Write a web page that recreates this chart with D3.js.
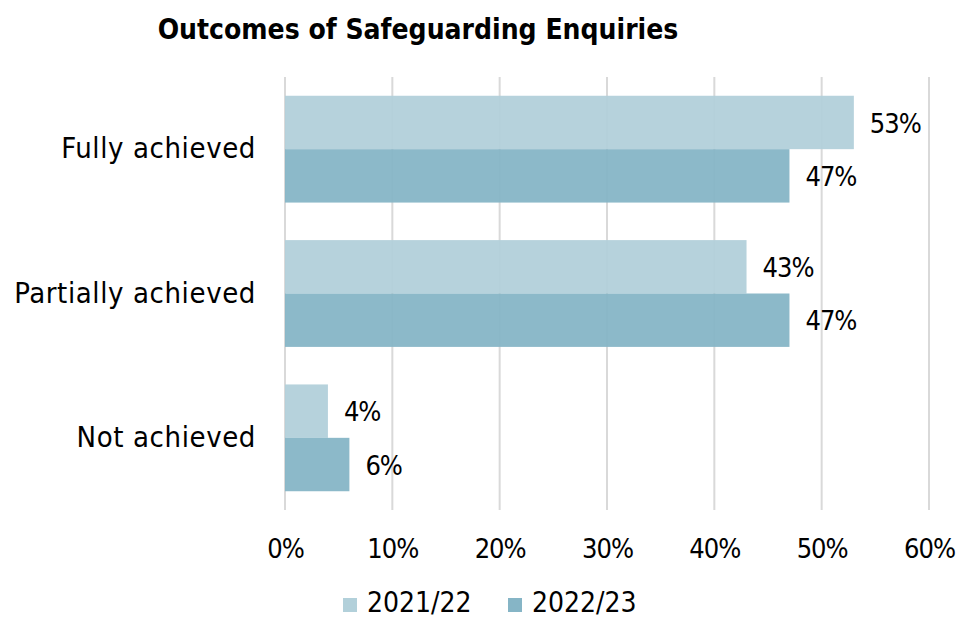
<!DOCTYPE html>
<html>
<head>
<meta charset="utf-8">
<script src="https://cdn.jsdelivr.net/npm/d3@7"></script>
<style>
  html, body { margin: 0; padding: 0; background: #fff; }
  svg text { font-family: "DejaVu Sans Condensed", "DejaVu Sans", sans-serif; font-stretch: condensed; fill: #000; }
</style>
</head>
<body>
<svg id="chart" width="958" height="619"></svg>
<script>
const categories = ["Fully achieved", "Partially achieved", "Not achieved"];
const seriesNames = ["2021/22", "2022/23"];
const values2021 = [53, 43, 4];
const values2022 = [47, 47, 6];
const xTicks = [0, 10, 20, 30, 40, 50, 60];
const colors = ["#b2d0da", "#86b5c6"];

const svg = d3.select("#chart");
const margin = { left: 285, right: 29, top: 77, bottom: 109 };
const W = 958, H = 619;
const FS = 29;     // category and legend labels
const NUM_FS = 27; // percentage labels

const x = d3.scaleLinear().domain([0, 60]).range([margin.left, W - margin.right]);
const y = d3.scaleBand().domain(categories).range([margin.top, H - margin.bottom]).paddingInner(0.26).paddingOuter(0.13);
const ySub = d3.scaleBand().domain(seriesNames).range([0, y.bandwidth()]);

// title
svg.append("text")
  .attr("x", 418).attr("y", 39)
  .attr("text-anchor", "middle")
  .attr("font-size", 28).attr("font-weight", "bold")
  .text("Outcomes of Safeguarding Enquiries");

// vertical gridlines
svg.append("g").selectAll("line").data(xTicks).join("line")
  .attr("x1", d => x(d)).attr("x2", d => x(d))
  .attr("y1", margin.top).attr("y2", H - margin.bottom)
  .attr("stroke", "#d9d9d9").attr("stroke-width", 2);

// x tick labels
const xAxis = d3.axisBottom(x).tickValues(xTicks).tickFormat(d => d + "%").tickSize(0).tickPadding(0);
const gx = svg.append("g").attr("transform", `translate(0, ${H - margin.bottom})`).call(xAxis);
gx.select(".domain").remove();
gx.attr("font-family", null);
gx.selectAll("text").attr("font-size", NUM_FS).attr("letter-spacing", -1).attr("dy", null).attr("y", 48);

// category labels
const yAxis = d3.axisLeft(y).tickSize(0).tickPadding(29);
const gy = svg.append("g").attr("transform", `translate(${margin.left}, 0)`).call(yAxis);
gy.select(".domain").remove();
gy.attr("font-family", null);
gy.selectAll("text").attr("font-size", FS).attr("letter-spacing", 0.6);

// bars
const rows = categories.map((c, i) => ({ cat: c, vals: [values2021[i], values2022[i]] }));
const groups = svg.append("g").selectAll("g").data(rows).join("g")
  .attr("transform", d => `translate(0, ${y(d.cat)})`);

groups.selectAll("rect").data(d => d.vals.map((v, j) => ({ v, s: seriesNames[j], j }))).join("rect")
  .attr("x", x(0))
  .attr("y", d => ySub(d.s))
  .attr("width", d => x(d.v) - x(0))
  .attr("height", ySub.bandwidth())
  .attr("fill", d => colors[d.j])
  .attr("fill-opacity", 0.95);

groups.selectAll("text.val").data(d => d.vals.map((v, j) => ({ v, s: seriesNames[j], j }))).join("text")
  .attr("class", "val")
  .attr("x", d => x(d.v) + 16)
  .attr("y", d => ySub(d.s) + ySub.bandwidth() / 2)
  .attr("dy", "0.38em")
  .attr("font-size", NUM_FS)
  .attr("letter-spacing", -1)
  .text(d => d.v + "%");

// legend
const legendX = [343, 508];
const leg = svg.append("g").selectAll("g").data(seriesNames).join("g")
  .attr("transform", (d, i) => `translate(${legendX[i]}, 598)`);
leg.append("rect").attr("width", 14).attr("height", 14).attr("fill", (d, i) => colors[i]);
leg.append("text").attr("x", 24).attr("y", 14).attr("font-size", 28).text(d => d);
</script>
</body>
</html>
